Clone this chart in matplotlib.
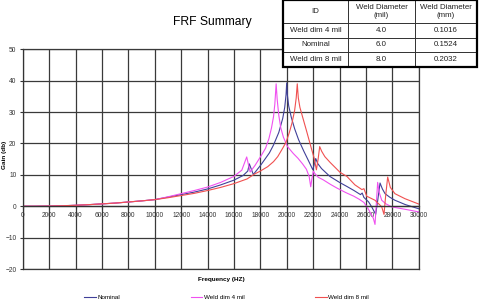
import matplotlib.pyplot as plt
from matplotlib.patches import Rectangle

plt.rcParams['font.family'] = ['Liberation Sans', 'DejaVu Sans']

# frequency (Hz) / gain (dB)
freq_nom = [0, 1000, 2000, 3000, 4000, 5000, 6000, 7000, 8000, 9000, 10000,
            11000, 12000, 13000, 14000, 15000, 16000, 16700, 17050, 17170, 17470,
            18050, 18690, 19000, 19400, 19700, 19850, 19950, 20000, 20050, 20150,
            20350, 20600, 20900, 21300, 21650, 21980, 22200, 22350, 22640, 23270,
            24000, 24560, 25100, 25590, 25720, 25850, 26200, 26440, 26740, 26900,
            27070, 27250, 27450, 27800, 28200, 29000, 30000]
gain_nom = [0, 0, 0.05, 0.15, 0.3, 0.5, 0.75, 1.0, 1.35, 1.7, 2.1,
            2.9, 3.7, 4.5, 5.5, 6.8, 8.3, 9.8, 11.2, 13.5, 10.1,
            13.2, 17.0, 19.5, 23.5, 28.0, 31.5, 35.5, 39.3, 35.5, 32.0,
            28.3, 24.7, 21.2, 17.5, 14.5, 11.6, 15.2, 13.6, 12.0, 9.5,
            7.6, 6.3, 5.0, 3.7, 4.2, 2.8, 1.4, -0.2, -2.6, 2.0,
            7.4, 5.5, 4.0, 2.9, 1.9, 0.5, -0.8]

freq_4mil = [0, 1000, 2000, 3000, 4000, 5000, 6000, 7000, 8000, 9000, 10000,
             11000, 12000, 13000, 14000, 15000, 16000, 16600, 16970, 17230, 17600,
             18050, 18400, 18650, 18850, 19000, 19100, 19200, 19280, 19400, 19550,
             19750, 20060, 20500, 20850, 21200, 21490, 21700, 21820, 21900, 22020,
             22150, 22400, 22770, 23300, 23800, 24500, 25080, 25500, 25850, 26200,
             26560, 26690, 26890, 27000, 27200, 27500, 27950, 29000, 30000]
gain_4mil = [0, 0, 0.05, 0.15, 0.3, 0.5, 0.75, 1.0, 1.35, 1.7, 2.1,
             3.0, 4.0, 5.0, 6.1, 7.6, 9.5, 11.5, 15.7, 10.9, 13.0,
             16.0, 18.5, 21.5, 25.0, 28.5, 32.5, 39.0, 34.0, 29.0, 25.0,
             22.0, 19.0, 16.8, 15.3, 13.5, 11.8, 9.5, 6.2, 8.5, 11.2,
             10.3, 9.2, 8.4, 7.0, 5.8, 4.3, 3.2, 2.2, 1.2, -1.0,
             -3.8, -5.8, 7.6, 4.5, 1.9, 0.8, -0.2, -1.0, -1.8]

freq_8mil = [0, 1000, 2000, 3000, 4000, 5000, 6000, 7000, 8000, 9000, 10000,
             11000, 12000, 13000, 14000, 15000, 16000, 17000, 17540, 18000, 18560,
             19000, 19320, 19700, 19960, 20200, 20400, 20600, 20720, 20800, 20880,
             21000, 21200, 21490, 21870, 22080, 22250, 22380, 22500, 22650, 22890,
             23280, 24040, 24560, 25170, 25700, 25850, 26060, 26690, 27200, 27370,
             27500, 27650, 27850, 28200, 28960, 30000]
gain_8mil = [0, 0, 0.05, 0.15, 0.3, 0.5, 0.75, 1.0, 1.35, 1.7, 2.1,
             2.7, 3.4, 4.1, 5.0, 6.0, 7.2, 8.7, 10.2, 11.2, 12.6,
             14.2, 15.8, 18.5, 20.5, 23.5, 26.5, 30.5, 34.5, 39.0, 34.5,
             31.5, 28.5, 24.2, 18.4, 15.3, 11.6, 15.0, 19.0, 17.5, 15.8,
             14.0, 10.8, 9.5, 6.8, 5.3, 5.6, 3.2, 1.9, -0.2, -2.6,
             3.5, 9.3, 6.0, 4.0, 2.4, 0.7]

x_ticks = list(range(0, 30001, 2000))
y_ticks = list(range(-20, 51, 10))

table_header = ['ID', 'Weld Diameter\n(mil)', 'Weld Diameter\n(mm)']
table_rows = [['Weld dim 4 mil', '4.0', '0.1016'],
              ['Nominal', '6.0', '0.1524'],
              ['Weld dim 8 mil', '8.0', '0.2032']]

W, H = 481, 304
fig = plt.figure(figsize=(W / 100, H / 100), dpi=100)
ax = fig.add_axes([22.7 / W, 35 / H, 396 / W, 219.7 / H])

ax.plot(freq_nom, gain_nom, color='#404099', lw=0.8, label='Nominal')
ax.plot(freq_4mil, gain_4mil, color='#F050F0', lw=0.8, label='Weld dim 4 mil')
ax.plot(freq_8mil, gain_8mil, color='#F05050', lw=0.8, label='Weld dim 8 mil')

ax.set_xlim(0, 30000)
ax.set_ylim(-20, 50)
ax.set_xticks(x_ticks)
ax.set_yticks(y_ticks)
ax.grid(True, color='#3a3a3a', lw=0.9)
ax.set_axisbelow(True)
for s in ['top', 'right']:
    ax.spines[s].set_color('#3a3a3a')
    ax.spines[s].set_linewidth(0.9)
ax.spines['bottom'].set_position(('data', 0))
ax.spines['bottom'].set_color('#333333')
ax.spines['left'].set_color('#333333')
ax.spines['bottom'].set_linewidth(0.9)
ax.spines['left'].set_linewidth(0.9)
ax.plot([0, 30000], [-20, -20], color='#3a3a3a', lw=0.9, clip_on=False)
ax.tick_params(axis='x', length=2, pad=2.5, labelsize=4.8, labelcolor='#333333', color='#333333')
ax.tick_params(axis='y', length=2, pad=2.5, labelsize=4.8, labelcolor='#333333', color='#333333')

fig.text(212 / W, 1 - 22 / H, 'FRF Summary', fontsize=8.7, ha='center', va='center')
fig.text(221.5 / W, 1 - 280 / H, 'Frequency (HZ)', fontsize=4.6, fontweight='bold',
         ha='center', va='center')
fig.text(5 / W, 1 - 155 / H, 'Gain (db)', fontsize=4.6, fontweight='bold',
         rotation=90, ha='center', va='center')

fig.legend(loc='center', bbox_to_anchor=(226.5 / W, 7 / H), ncol=3, frameon=False,
           fontsize=4.5, handlelength=1.9, handletextpad=0.2, columnspacing=11.3)

# summary table in the top right corner
tax = fig.add_axes([283 / W, 1 - 66.7 / H, 194 / W, 66.7 / H])
tax.axis('off')
tbl = tax.table(cellText=table_rows, colLabels=table_header, cellLoc='center',
                colWidths=[65, 67, 62], bbox=[0, 0, 1, 1])
tbl.auto_set_font_size(False)
tbl.set_fontsize(5.7)
for (r, c), cell in tbl.get_celld().items():
    cell.set_height(23 if r == 0 else 14.6)
    cell.set_facecolor('white')
    cell.set_edgecolor('#222222')
    cell.set_linewidth(0.6)
    cell.get_text().set_color('#222222')
tax.add_patch(Rectangle((0, 0), 1, 1, transform=tax.transAxes, fill=False,
                        lw=1.6, edgecolor='black', clip_on=False, zorder=5))

fig.savefig('out.png', dpi=100, facecolor='white')
